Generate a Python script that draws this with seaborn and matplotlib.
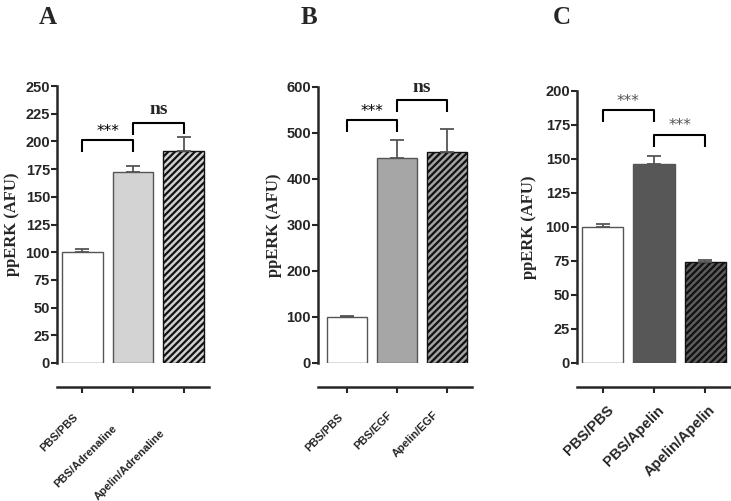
import numpy as np
import pandas as pd
import matplotlib
matplotlib.use("Agg")
import matplotlib.pyplot as plt
import seaborn as sns

# data
cats_a = ["PBS/PBS", "PBS/Adrenaline", "Apelin/Adrenaline"]
vals_a = [100, 172, 191]
err_a = [2.5, 6, 13]

cats_b = ["PBS/PBS", "PBS/EGF", "Apelin/EGF"]
vals_b = [100, 446, 459]
err_b = [2, 39, 50]

cats_c = ["PBS/PBS", "PBS/Apelin", "Apelin/Apelin"]
vals_c = [100, 146, 74]
err_c = [2.5, 6.5, 2]

# (left idx, right idx, top, leg bottom left, leg bottom right, label)
brackets_a = [(0, 1, 201, 190, 190, "***"), (1, 2, 217, 206, 207, "ns")]
brackets_b = [(0, 1, 528, 502, 502, "***"), (1, 2, 572, 546, 546, "ns")]
brackets_c = [(0, 1, 186, 177, 177, "***"), (1, 2, 168, 159, 159, "***")]

sns.set_style("ticks")
plt.rcParams["hatch.linewidth"] = 1.6

W, H = 731, 501
fig = plt.figure(figsize=(W / 100, H / 100), dpi=100)


def px_axes(x0, x1, ytop, ybot):
    return fig.add_axes([x0 / W, (H - ybot) / H, (x1 - x0) / W, (ybot - ytop) / H])


def draw_panel(ax, cats, vals, errs, colors, ymax, step, xlim, brackets,
               lab_off, narrow=True, star_color="black", label_x=-0.24):
    df = pd.DataFrame({"cond": cats, "val": vals})
    sns.barplot(data=df, x="cond", y="val", hue="cond", palette=colors,
                legend=False, width=0.8, ax=ax)
    for i, p in enumerate(ax.patches):
        p.set_edgecolor("#555555")
        p.set_linewidth(1.0)
        if i == 2:
            p.set_edgecolor("#111111")
            p.set_hatch("/////")
    ax.errorbar(range(3), vals, yerr=[np.zeros(3), errs], fmt="none",
                ecolor="#555555", elinewidth=1.3, capsize=5, capthick=1.3)
    ax.set_ylim(0, ymax)
    ax.set_xlim(*xlim)
    ax.set_yticks(np.arange(0, ymax + 1, step))
    ax.set_xlabel("")
    ax.set_ylabel("ppERK (AFU)", fontsize=12, fontweight="bold",
                  family="Liberation Serif")
    ax.yaxis.set_label_coords(label_x, 0.5)
    sns.despine(ax=ax)
    ax.spines["left"].set_linewidth(1.8)
    ax.spines["bottom"].set_linewidth(1.8)
    ax.spines["bottom"].set_position(("outward", 17))
    ax.tick_params(axis="y", length=4, width=1.5, labelsize=10.5, pad=1)
    for t in ax.get_yticklabels():
        t.set_fontweight("bold")
        t.set_family("Liberation Sans")
    ax.set_xticks(range(3))
    ax.tick_params(axis="x", length=4, width=1.5)
    ax.set_xticklabels([])

    # rotated category labels, end of each label placed below its tick
    size = 8 if narrow else 10.5
    for i, (name, off) in enumerate(zip(cats, lab_off)):
        ax.annotate(name, xy=(i, 0), xycoords=ax.get_xaxis_transform(),
                    xytext=off, textcoords="offset pixels", rotation=45,
                    ha="right", va="top", rotation_mode="anchor",
                    annotation_clip=False, fontsize=size, fontweight="bold",
                    family="Liberation Sans")

    for l, r, top, b1, b2, lab in brackets:
        ax.plot([l, l, r, r], [b1, top, top, b2], color="black", lw=1.5,
                clip_on=False, solid_capstyle="butt")
        if lab == "ns":
            ax.text((l + r) / 2, top + ymax * 0.015, lab, ha="center", va="bottom",
                    fontsize=14, fontweight="bold", family="Liberation Serif")
        else:
            ax.text((l + r) / 2, top + ymax * 0.005, lab, ha="center", va="bottom",
                    fontsize=11, color=star_color, family="DejaVu Sans")


ax_a = px_axes(57, 209, 86, 363)
draw_panel(ax_a, cats_a, vals_a, err_a, ["white", "#d3d3d3", "#d0d0d0"],
           250, 25, (-0.5, 2.5), brackets_a,
           [(-9, -49), (-21, -60), (-24, -65)], label_x=-0.245)

ax_b = px_axes(318, 472, 87, 363)
draw_panel(ax_b, cats_b, vals_b, err_b, ["white", "#a6a6a6", "#a2a2a2"],
           600, 100, (-0.58, 2.5), brackets_b,
           [(-9, -49), (-10, -47), (-14, -47)], label_x=-0.235)

ax_c = px_axes(577, 731, 91, 363)
draw_panel(ax_c, cats_c, vals_c, err_c, ["white", "#575757", "#5c5c5c"],
           200, 25, (-0.5, 2.5), brackets_c,
           [(4, -40), (3, -40), (3, -40)], narrow=False, star_color="#555555",
           label_x=-0.26)

for lab, x in [("A", 48), ("B", 309), ("C", 562)]:
    fig.text(x / W, 1 - 17 / H, lab, ha="center", va="center", fontsize=18,
             fontweight="bold", family="Liberation Serif")

fig.savefig("out.png", dpi=100)
